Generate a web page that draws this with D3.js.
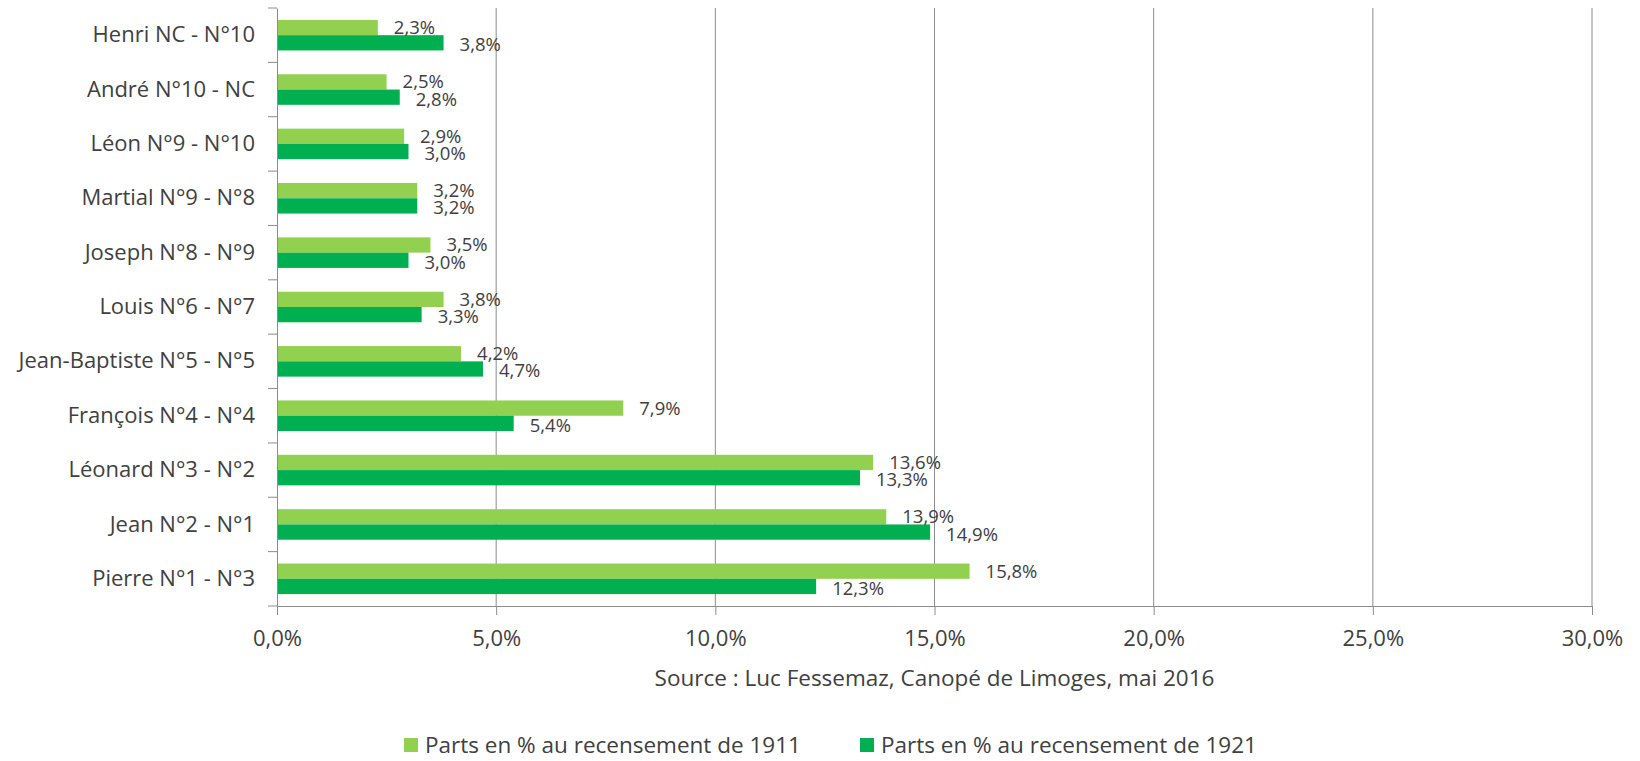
<!DOCTYPE html>
<html>
<head>
<meta charset="utf-8">
<script src="https://cdn.jsdelivr.net/npm/d3@7"></script>
<style>
  body { margin: 0; background: #fff; }
  svg { display: block; font-family: "Open Sans", Lato, sans-serif; }
  .txt { fill: #404040; }
</style>
</head>
<body>
<svg id="chart" width="1640" height="761"></svg>
<script>
// categories listed top to bottom as they appear
const categories = [
  "Henri NC - N°10",
  "André N°10 - NC",
  "Léon N°9 - N°10",
  "Martial N°9 - N°8",
  "Joseph N°8 - N°9",
  "Louis N°6 - N°7",
  "Jean-Baptiste N°5 - N°5",
  "François N°4 - N°4",
  "Léonard N°3 - N°2",
  "Jean N°2 - N°1",
  "Pierre N°1 - N°3"
];
const values1911 = [2.3, 2.5, 2.9, 3.2, 3.5, 3.8, 4.2, 7.9, 13.6, 13.9, 15.8];
const values1921 = [3.8, 2.8, 3.0, 3.2, 3.0, 3.3, 4.7, 5.4, 13.3, 14.9, 12.3];
const seriesNames = ["Parts en % au recensement de 1911", "Parts en % au recensement de 1921"];
const seriesColors = ["#92D050", "#00B050"];
const xTicks = [0, 5, 10, 15, 20, 25, 30];
const sourceText = "Source : Luc Fessemaz, Canopé de Limoges, mai 2016";

const plot = { left: 277, right: 1592, top: 8, bottom: 606 };
const svg = d3.select("#chart");
const fr = d3.formatLocale({ decimal: ",", thousands: " ", grouping: [3], currency: ["", "€"] });
const fmt = (d) => fr.format(".1f")(d) + "%";

const x = d3.scaleLinear().domain([0, 30]).range([plot.left, plot.right]);
const y0 = d3.scaleBand().domain(categories).range([plot.top, plot.bottom]);
const y1 = d3.scaleBand().domain([0, 1]).range([0, y0.bandwidth()])
  .paddingInner(0).paddingOuter(0.78);

const grid = "#8c8c8c";

// vertical gridlines
svg.append("g")
  .selectAll("line")
  .data(xTicks.slice(1))
  .join("line")
  .attr("x1", (d) => x(d)).attr("x2", (d) => x(d))
  .attr("y1", plot.top).attr("y2", plot.bottom)
  .attr("stroke", grid).attr("stroke-width", 1);

// x axis
const xAxis = svg.append("g")
  .attr("transform", `translate(0,${plot.bottom})`)
  .call(d3.axisBottom(x).tickValues(xTicks).tickSize(9).tickSizeOuter(0).tickPadding(15).tickFormat(fmt));
xAxis.attr("font-family", null).attr("font-size", null);
xAxis.select(".domain").attr("stroke", grid);
xAxis.selectAll(".tick line").attr("stroke", grid);
xAxis.selectAll("text").attr("class", "txt").attr("fill", null)
  .style("font-size", "22px");

// y axis
const yAxis = svg.append("g")
  .attr("transform", `translate(${plot.left},0)`)
  .call(d3.axisLeft(y0).tickSize(0).tickPadding(22));
yAxis.attr("font-family", null).attr("font-size", null);
yAxis.select(".domain").attr("stroke", grid);
yAxis.selectAll("text").attr("class", "txt").attr("fill", null)
  .style("font-size", "22px");
// category boundary ticks
const edges = categories.map((c) => y0(c)).concat([plot.bottom]);
svg.append("g")
  .selectAll("line")
  .data(edges)
  .join("line")
  .attr("x1", plot.left - 9).attr("x2", plot.left)
  .attr("y1", (d) => d).attr("y2", (d) => d)
  .attr("stroke", grid);

// bars
const rows = categories.map((c, i) => ({ cat: c, vals: [values1911[i], values1921[i]] }));
const groups = svg.append("g")
  .selectAll("g")
  .data(rows)
  .join("g")
  .attr("transform", (d) => `translate(0,${y0(d.cat)})`);

groups.selectAll("rect")
  .data((d) => d.vals.map((v, s) => ({ v, s })))
  .join("rect")
  .attr("x", x(0) + 1)
  .attr("y", (d) => y1(d.s))
  .attr("width", (d) => x(d.v) - x(0) - 1)
  .attr("height", y1.bandwidth())
  .attr("fill", (d) => seriesColors[d.s]);

groups.selectAll("text")
  .data((d) => d.vals.map((v, s) => ({ v, s })))
  .join("text")
  .attr("class", "txt")
  .attr("x", (d) => x(d.v) + 16)
  .attr("y", (d) => y1(d.s) + y1.bandwidth() / 2 + (d.s === 0 ? 0 : 2))
  .attr("dy", "0.35em")
  .style("font-size", "18.5px")
  .text((d) => fmt(d.v));

// source
svg.append("text")
  .attr("class", "txt")
  .attr("x", (plot.left + plot.right) / 2)
  .attr("y", 678)
  .attr("dy", "0.35em")
  .attr("text-anchor", "middle")
  .style("font-size", "22.5px")
  .text(sourceText);

// legend
const legendX = [404, 860];
const legend = svg.append("g")
  .selectAll("g")
  .data(seriesNames)
  .join("g")
  .attr("transform", (d, i) => `translate(${legendX[i]},745)`);
legend.append("rect")
  .attr("x", 0).attr("y", -7).attr("width", 14).attr("height", 14)
  .attr("fill", (d, i) => seriesColors[i]);
legend.append("text")
  .attr("class", "txt")
  .attr("x", 21).attr("dy", "0.35em")
  .style("font-size", "22.5px")
  .text((d) => d);
</script>
</body>
</html>
